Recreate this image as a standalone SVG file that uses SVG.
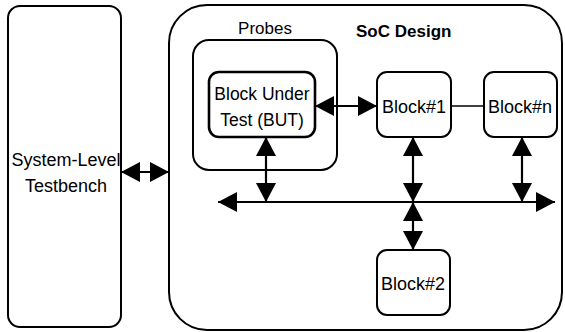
<svg xmlns="http://www.w3.org/2000/svg" width="565" height="332" viewBox="0 0 565 332">
  <style>
    .box { fill: #fff; stroke: #000; stroke-width: 2; }
    .thick { stroke-width: 2.6; }
    .lbl { font-family: "Liberation Sans", Arial, Helvetica, sans-serif; font-size: 18px; fill: #000; }
    .sm { font-size: 17px; }
    .mid { text-anchor: middle; }
    .bold { font-weight: bold; }
    .link { stroke: #000; stroke-width: 2.2; fill: none; }
    .both { marker-start: url(#ah); marker-end: url(#ah); }
  </style>
  <defs>
    <marker id="ah" markerUnits="userSpaceOnUse" markerWidth="20" markerHeight="22" viewBox="0 0 20 22" refX="19" refY="11" orient="auto-start-reverse">
      <path d="M0,1 L19,11 L0,21 z" fill="#000"/>
    </marker>
  </defs>

  <rect width="565" height="332" fill="#fff"/>

  <g id="soc-design">
    <rect class="box" x="169" y="5" width="393" height="325" rx="38" ry="38"/>
    <text class="lbl sm bold" x="356" y="37">SoC Design</text>
  </g>

  <g id="testbench">
    <rect class="box" x="8" y="6" width="113" height="321" rx="12" ry="12"/>
    <text class="lbl mid" x="66" y="166">System-Level</text>
    <text class="lbl mid" x="66" y="192">Testbench</text>
  </g>

  <g id="probes">
    <rect class="box" x="193" y="40" width="144" height="130" rx="16" ry="16"/>
    <text class="lbl sm mid" x="265" y="34">Probes</text>
  </g>

  <g id="but">
    <rect class="box thick" x="209" y="72" width="106" height="65" rx="10" ry="10"/>
    <text class="lbl mid" x="262" y="100" style="font-size:17.5px">Block Under</text>
    <text class="lbl mid" x="262" y="126" style="font-size:17.5px">Test (BUT)</text>
  </g>

  <g id="block1">
    <rect class="box" x="377" y="72" width="74" height="65" rx="10" ry="10"/>
    <text class="lbl mid" x="414" y="113">Block#1</text>
  </g>

  <g id="blockn">
    <rect class="box" x="484" y="72" width="73" height="65" rx="10" ry="10"/>
    <text class="lbl mid" x="520" y="113">Block#n</text>
  </g>

  <g id="block2">
    <rect class="box" x="377" y="250" width="73" height="65" rx="10" ry="10"/>
    <text class="lbl mid" x="413" y="290">Block#2</text>
  </g>

  <g id="connectors">
    <!-- testbench to SoC -->
    <line class="link both" x1="121" y1="172" x2="169" y2="172"/>
    <!-- system bus -->
    <line class="link both" x1="218" y1="202" x2="555" y2="202"/>
    <!-- BUT to Block#1 -->
    <line class="link both" x1="315" y1="106" x2="377" y2="106"/>
    <!-- Block#1 to Block#n -->
    <line class="link" x1="451" y1="106" x2="484" y2="106" style="stroke-width:1.6"/>
    <!-- blocks to bus -->
    <line class="link both" x1="266" y1="137" x2="266" y2="202"/>
    <line class="link both" x1="413" y1="137" x2="413" y2="202"/>
    <line class="link both" x1="522" y1="137" x2="522" y2="202"/>
    <line class="link both" x1="413" y1="202" x2="413" y2="250"/>
  </g>
</svg>
